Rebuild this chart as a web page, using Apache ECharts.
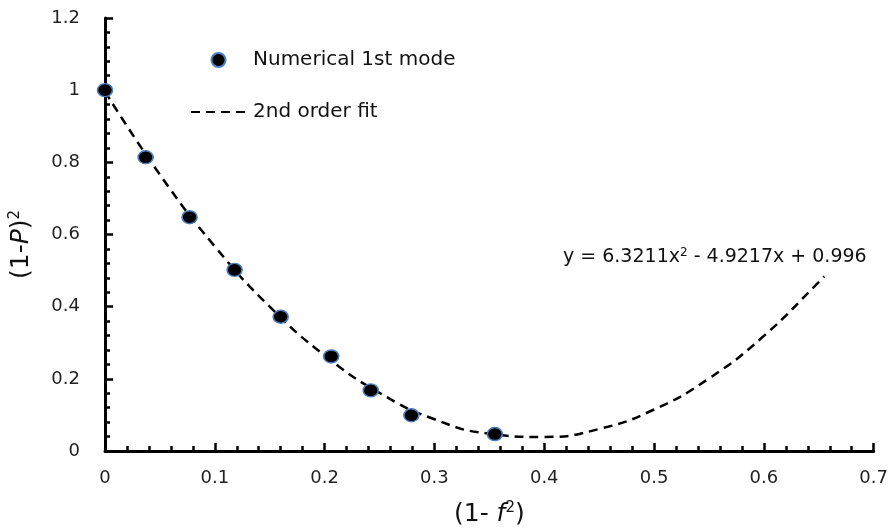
<!DOCTYPE html>
<html>
<head>
<meta charset="utf-8">
<script src="https://cdn.jsdelivr.net/npm/echarts@6/dist/echarts.min.js"></script>
<style>html,body{margin:0;padding:0;background:#fff}#c{width:891px;height:532px}</style>
</head>
<body>
<div id="c"></div>
<script>
var pointX = [0, 0.037, 0.077, 0.118, 0.160, 0.206, 0.242, 0.279, 0.355];
var pointY = [1.0, 0.814, 0.648, 0.502, 0.372, 0.262, 0.168, 0.099, 0.047];
var fitX = [0, 0.05, 0.1, 0.15, 0.2, 0.25, 0.3, 0.35, 0.4, 0.45, 0.5, 0.55, 0.6, 0.65, 0.655];
var fitY = [0.996, 0.766, 0.567, 0.400, 0.265, 0.161, 0.088, 0.048, 0.039, 0.061, 0.115, 0.201, 0.319, 0.468, 0.484];
var xTicks = [0, 0.1, 0.2, 0.3, 0.4, 0.5, 0.6, 0.7];
var yTicks = [0, 0.2, 0.4, 0.6, 0.8, 1, 1.2];
var seriesNames = ['Numerical 1st mode', '2nd order fit'];
var equationText = 'y = 6.3211x{sup|2} - 4.9217x + 0.996';

var font = '"DejaVu Sans", "Noto Sans", sans-serif';
var chart = echarts.init(document.getElementById('c'), null, {renderer: 'canvas'});
function zip(a, b) { return a.map(function (v, i) { return [v, b[i]]; }); }
var supStyle = {fontSize: 15, verticalAlign: 'top', padding: [0, 0, 12, 0], fontFamily: font, color: '#111'};

chart.setOption({
  animation: false,
  backgroundColor: '#fff',
  textStyle: {fontFamily: font},
  grid: {left: 105, right: 14, top: 18, bottom: 79},
  legend: {
    orient: 'vertical', left: 190, top: 50, padding: 0,
    itemWidth: 55, itemHeight: 14, itemGap: 32,
    textStyle: {fontSize: 20, lineHeight: 20, color: '#111', fontFamily: font, padding: [0, 0, 0, 2]},
    data: [
      {name: seriesNames[0]},
      {name: seriesNames[1], itemStyle: {opacity: 0}}
    ]
  },
  xAxis: {
    type: 'value', min: xTicks[0], max: xTicks[xTicks.length - 1], interval: 0.1,
    name: '(1- {i|f}{sup|2})', nameLocation: 'middle', nameGap: 50,
    nameTextStyle: {fontSize: 25, color: '#111', fontFamily: font,
      rich: {i: {fontSize: 25, fontStyle: 'italic', fontFamily: font, color: '#111'}, sup: supStyle}},
    axisLine: {lineStyle: {color: '#000', width: 3}},
    axisTick: {inside: true, length: 8, lineStyle: {color: '#000', width: 2.5}},
    minorTick: {show: true, splitNumber: 5, length: 5, lineStyle: {color: '#000', width: 2.5}},
    splitLine: {show: false},
    axisLabel: {fontSize: 18, color: '#222', margin: 18, fontFamily: font,
      formatter: function (v) { return String(Math.round(v * 10) / 10); }}
  },
  yAxis: {
    type: 'value', min: yTicks[0], max: yTicks[yTicks.length - 1], interval: 0.2,
    name: '(1-{i|P}){sup|2}', nameLocation: 'middle', nameGap: 70, nameRotate: 90,
    nameTextStyle: {fontSize: 25, color: '#111', fontFamily: font, padding: [0, 20, 0, 0],
      rich: {i: {fontSize: 25, fontStyle: 'italic', fontFamily: font, color: '#111'}, sup: supStyle}},
    axisLine: {show: true, lineStyle: {color: '#000', width: 3}},
    axisTick: {show: true, inside: true, length: 8, lineStyle: {color: '#000', width: 2.5}},
    minorTick: {show: true, splitNumber: 5, length: 5, lineStyle: {color: '#000', width: 2.5}},
    splitLine: {show: false},
    axisLabel: {fontSize: 18, color: '#222', margin: 25, fontFamily: font,
      formatter: function (v) { return String(Math.round(v * 10) / 10); }}
  },
  series: [
    {
      name: seriesNames[0], type: 'scatter', z: 5,
      symbol: 'circle', symbolSize: [15, 13],
      itemStyle: {color: '#000', borderColor: '#4a7fc0', borderWidth: 1.5, opacity: 1},
      data: zip(pointX, pointY)
    },
    {
      name: seriesNames[1], type: 'line', smooth: true, showSymbol: false, z: 3,
      symbol: 'none', symbolSize: 0,
      lineStyle: {color: '#000', width: 2.5, type: [9, 6]},
      itemStyle: {color: '#000'},
      data: zip(fitX, fitY)
    }
  ],
  graphic: [
    {type: 'text', left: 563, top: 247,
      style: {text: equationText, fontSize: 19, fill: '#111', fontFamily: font,
        rich: {sup: {fontSize: 12, verticalAlign: 'top', padding: [0, 0, 9, 0], fill: '#111', fontFamily: font}}}}
  ]
});
</script>
</body>
</html>
